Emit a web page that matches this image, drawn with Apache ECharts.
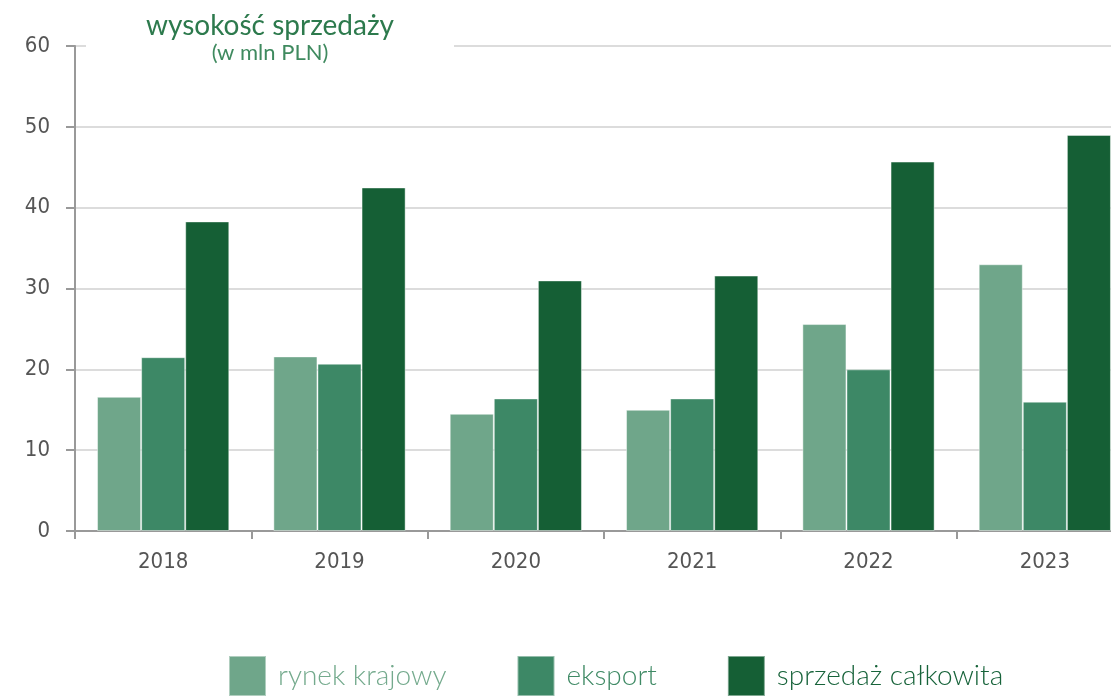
<!DOCTYPE html>
<html><head><meta charset="utf-8">
<script src="https://cdn.jsdelivr.net/npm/echarts@6/dist/echarts.min.js"></script>
<style>html,body{margin:0;padding:0;background:#fff}#c{width:1111px;height:697px}</style>
</head><body><div id="c"></div>
<script>
const categories = ['2018','2019','2020','2021','2022','2023'];
const rynekKrajowy = [16.6, 21.6, 14.5, 15.0, 25.6, 33.0];
const eksport = [21.5, 20.7, 16.4, 16.4, 20.0, 16.0];
const sprzedazCalkowita = [38.3, 42.5, 31.0, 31.6, 45.7, 49.0];
const yTicks = [0, 10, 20, 30, 40, 50, 60];

const chart = echarts.init(document.getElementById('c'));
const cond = '"DejaVu Sans Condensed","DejaVu Sans",sans-serif';
const border = {borderColor:'rgba(255,255,255,0.45)', borderWidth:1};
chart.setOption({
  animation:false,
  title:{
    text:'wysokość sprzedaży', subtext:'(w mln PLN)',
    left:210, top:6, itemGap:2, textAlign:'center',
    backgroundColor:'#fff', padding:[6,60,8,60],
    textStyle:{fontFamily:'Lato', fontWeight:400, fontSize:28, color:'#2d7a4d'},
    subtextStyle:{fontFamily:'Lato', fontWeight:400, fontSize:22, color:'#3f8a5f'},
    z:10
  },
  legend:{
    left:228, bottom:0, padding:0, itemWidth:37, itemHeight:40, itemGap:70,
    icon:'rect',
    textStyle:{fontFamily:'Lato', fontWeight:300, fontSize:28, padding:[0,0,0,7]},
    data:[
      {name:'rynek krajowy', textStyle:{color:'#74aa8d'}},
      {name:'eksport', textStyle:{color:'#3f8a65'}},
      {name:'sprzedaż całkowita', textStyle:{color:'#17633a'}}
    ]
  },
  grid:{left:75, top:46, right:-22, height:485, outerBoundsMode:'none', containLabel:false},
  xAxis:{
    type:'category', data:categories,
    axisLine:{lineStyle:{color:'#999', width:2}},
    axisTick:{show:true, length:8, lineStyle:{color:'#999', width:2}},
    axisLabel:{margin:20, fontFamily:cond, fontWeight:'500 condensed', fontSize:22, color:'#555'}
  },
  yAxis:{
    type:'value', min:yTicks[0], max:yTicks[yTicks.length-1], interval:10,
    axisLine:{show:true, lineStyle:{color:'#999', width:2}},
    axisTick:{show:true, length:9, lineStyle:{color:'#999', width:2}},
    axisLabel:{margin:25, fontFamily:cond, fontWeight:'500 condensed', fontSize:22, color:'#555'},
    splitLine:{lineStyle:{color:'#dcdcdc', width:2}}
  },
  series:[
    {name:'rynek krajowy', type:'bar', data:rynekKrajowy, barGap:'0%', barCategoryGap:'25%', itemStyle:Object.assign({color:'#6fa68a'},border)},
    {name:'eksport', type:'bar', data:eksport, itemStyle:Object.assign({color:'#3d8866'},border)},
    {name:'sprzedaż całkowita', type:'bar', data:sprzedazCalkowita, itemStyle:Object.assign({color:'#155f35'},border)}
  ]
});
</script></body></html>
